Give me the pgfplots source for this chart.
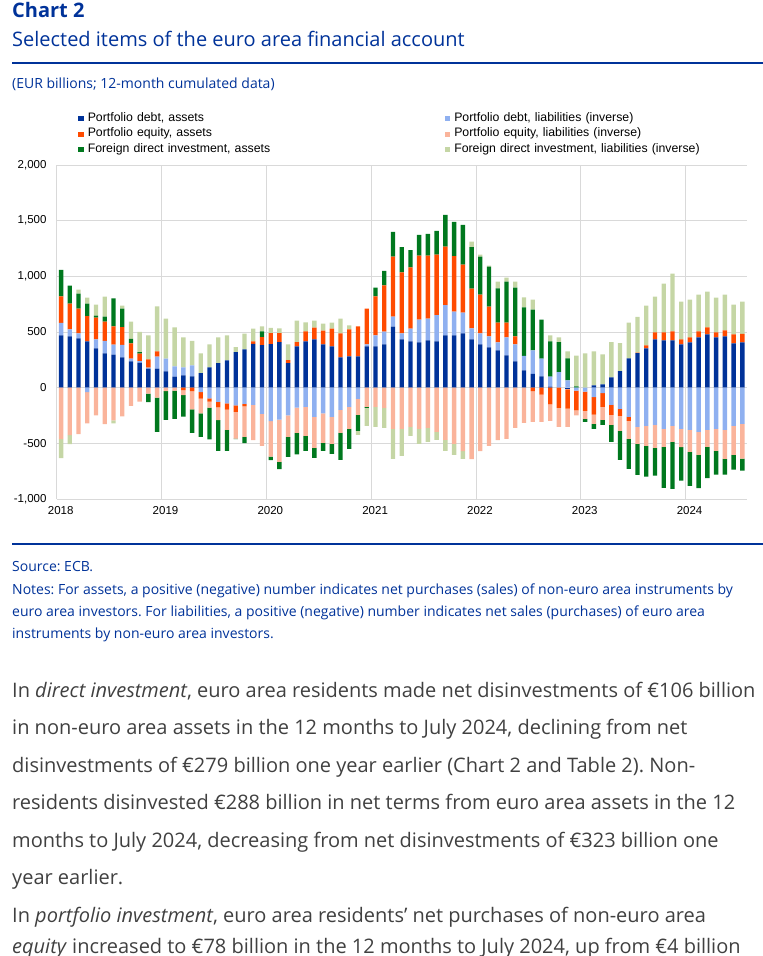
\documentclass[border=0pt]{standalone}
\usepackage{fontspec}
\setmainfont{Open Sans}
\newfontfamily\chartfont{Liberation Sans}
\usepackage{pgfplots}
\usepackage{pgfplotstable}
\pgfplotsset{compat=1.18}
\frenchspacing

\definecolor{ecbblue}{RGB}{0,50,153}
\definecolor{pdebtA}{RGB}{0,50,153}
\definecolor{pdebtL}{RGB}{143,176,240}
\definecolor{peqA}{RGB}{255,75,0}
\definecolor{peqL}{RGB}{250,180,155}
\definecolor{fdiA}{RGB}{0,120,30}
\definecolor{fdiL}{RGB}{197,214,165}
\definecolor{bodytext}{RGB}{64,64,64}
\definecolor{gridgrey}{RGB}{217,217,217}

% 12-month cumulated flows, EUR bn, Jan 2018 - Jul 2024 (m = month index)
\pgfplotstableread{
m    pda  pdl  pea  pel  fa   fl
0.5  469  113  239 -463  236 -170
1.5  460   63  233 -427  161  -81
2.5  442   45  224 -418  134   36
3.5  415  -39  227 -281  113   54
4.5  352   81  197 -248   18   99
5.5  307  113  173 -328   45  179
6.5  296   90  164 -293  251  -27
7.5  272  113  158 -257  167   27
8.5  236   24  137 -164   42  155
9.5  224   15   66 -125   15  182
10.5 170    9   75  -54  -75  215
11.5 170  110   45  -90 -307  406
12.5 146  116    0  -30 -260  358
13.5  99   93    0  -27 -254  349
14.5 110   72  -21  -45 -194  269
15.5 101   99  -30 -164 -212  221
16.5 131  -39  -60 -131 -212  176
17.5 182  -96  -30  -54 -284  206
18.5 221 -128  -48 -116 -275  230
19.5 245 -140  -57 -182 -188  224
20.5 319 -158  -60 -239   -6   45
21.5 343 -146  -21 -275  -57  143
22.5 394 -155   21 -316    0  116
23.5 382 -236   72 -287   51   45
24.5 391 -301   99 -319  -30   48
25.5 409 -287   81 -379  -66   42
26.5 221 -248   27 -194 -179  140
27.5 370 -179   39 -227 -194  194
28.5 415 -173   90 -260 -134   81
29.5 433 -263  107 -278  -90   63
30.5 388 -230  125 -266  -72   63
31.5 370 -263  161 -242  -90   54
32.5 272 -200  215 -206 -242  134
33.5 281 -173  242 -197 -179   36
34.5 281 -101  269 -143 -143  -36
35.5 370   18  322 -173   -9 -161
36.5 370   99  352 -173   78 -179
37.5 388  116  415 -182  131 -179
38.5 549   90  537 -370  224 -269
39.5 433   54  549 -370  227 -242
40.5 415  116  549 -352  155  -81
41.5 406  206  573 -370  188 -134
42.5 424  197  564 -361  197 -125
43.5 415  236  543 -397  215  -72
44.5 469  272  525 -469  287  -99
45.5 469  215  498 -504  307  -99
46.5 487  188  430 -570  358  -69
47.5 433   99  358 -642  373   48
48.5 388   99  349 -570  340   18
49.5 361   99  269 -522  358    9
50.5 334   72  179 -472  307   60
51.5 290  161  134 -460  367   36
52.5 236  152   72 -361  439   54
53.5 155  131    0 -316  436   90
54.5 125  209  -30 -278  367   90
55.5 101  161  -63 -245  349    0
56.5   9   90 -149 -149  316   54
57.5   0  140 -182 -170  269   42
58.5 -15   66 -173 -164  197   63
59.5   0  -27 -176  -45   12  275
60.5   0  -36 -173  -72  -27  307
61.5  21  -84 -158  -84  -45  304
62.5  30  -48 -125 -116  -45  269
63.5  93 -155  -90  -90 -152  316
64.5 149 -191  -63 -134 -260  251
65.5 263 -263  -36 -161 -269  322
66.5 310 -352    4 -152 -279  323
67.5 352 -343   27 -179 -278  358
68.5 433 -334   63 -206 -251  322
69.5 424 -370   72 -161 -370  439
70.5 424 -343   81 -143 -424  519
71.5 388 -370   45 -165 -300  340
72.5 406 -379   45 -197 -307  340
73.5 451 -397   54 -206 -299  331
74.5 478 -379   63 -152 -281  322
75.5 451 -370   45 -197 -215  313
76.5 460 -379   54 -260 -143  322
77.5 397 -343   81 -260 -134  269
78.5 406 -325   78 -313 -106  288
}\finacc

\pgfplotsset{
  fincommon/.style={
    at={(56.7pt,-499pt)}, anchor=south west,
    width=690pt, height=334pt, scale only axis,
    xmin=0, xmax=79, ymin=-1000, ymax=2000,
    ybar stacked, bar width=0.5,
    axis line style={draw=none},
    tick style={draw=none},
  },
  sq/.style={legend image code/.code={\path[##1] (0pt,-2.5pt) rectangle (5.7pt,2.5pt); \path (9.5pt,0pt);}},
}

\begin{document}
\begin{tikzpicture}

% header
\node[anchor=base west, inner sep=0pt, text=ecbblue, font=\fontsize{20}{20}\selectfont\bfseries] at (12pt,-17pt) {Chart 2};
\node[anchor=base west, inner sep=0pt, text=ecbblue, font=\fontsize{20}{20}\selectfont] at (12pt,-46pt) {Selected items of the euro area financial account};
\draw[ecbblue, line width=2pt] (12pt,-63pt) -- (763pt,-63pt);
\node[anchor=base west, inner sep=0pt, text=ecbblue, font=\fontsize{14}{14}\selectfont] at (12pt,-88pt) {(EUR billions; 12-month cumulated data)};

% positive parts of each item
\begin{axis}[fincommon,
  xtick={0,12,...,72}, xticklabels={2018,2019,2020,2021,2022,2023,2024},
  ytick={-1000,-500,...,2000},
  grid=major, major grid style={gridgrey, line width=0.6pt},
  tick label style={font=\chartfont\fontsize{11.5}{11.5}\selectfont},
  xticklabel style={inner sep=0pt, yshift=-7pt, xshift=4pt},
  yticklabel style={inner sep=0pt, xshift=-10pt,
    /pgf/number format/1000 sep={,}, /pgf/number format/assume math mode=true},
  legend columns=2,
  legend cell align=left,
  legend style={draw=none, fill=none, inner sep=0pt,
    at={(0.031,1.156)}, anchor=north west,
    font=\chartfont\fontsize{12.3}{12.3}\selectfont,
    row sep=5.3pt,
    nodes={inner sep=0pt, anchor=west, text height=8pt, text depth=2.5pt, text width=357pt}},
]
\addplot[sq, fill=pdebtA, draw=none] table[x=m, y expr={max(\thisrow{pda},0)}] {\finacc};
\addlegendentry{Portfolio debt, assets}
\addplot[sq, fill=pdebtL, draw=none] table[x=m, y expr={max(\thisrow{pdl},0)}] {\finacc};
\addlegendentry{Portfolio debt, liabilities (inverse)}
\addplot[sq, fill=peqA, draw=none] table[x=m, y expr={max(\thisrow{pea},0)}] {\finacc};
\addlegendentry{Portfolio equity, assets}
\addplot[sq, fill=peqL, draw=none] table[x=m, y expr={max(\thisrow{pel},0)}] {\finacc};
\addlegendentry{Portfolio equity, liabilities (inverse)}
\addplot[sq, fill=fdiA, draw=none] table[x=m, y expr={max(\thisrow{fa},0)}] {\finacc};
\addlegendentry{Foreign direct investment, assets}
\addplot[sq, fill=fdiL, draw=none] table[x=m, y expr={max(\thisrow{fl},0)}] {\finacc};
\addlegendentry{Foreign direct investment, liabilities (inverse)}
\end{axis}

% negative parts, stacked downward from zero
\begin{axis}[fincommon, hide axis]
\addplot[fill=pdebtA, draw=none] table[x=m, y expr={min(\thisrow{pda},0)}] {\finacc};
\addplot[fill=pdebtL, draw=none] table[x=m, y expr={min(\thisrow{pdl},0)}] {\finacc};
\addplot[fill=peqA, draw=none] table[x=m, y expr={min(\thisrow{pea},0)}] {\finacc};
\addplot[fill=peqL, draw=none] table[x=m, y expr={min(\thisrow{pel},0)}] {\finacc};
\addplot[fill=fdiA, draw=none] table[x=m, y expr={min(\thisrow{fa},0)}] {\finacc};
\addplot[fill=fdiL, draw=none] table[x=m, y expr={min(\thisrow{fl},0)}] {\finacc};
\end{axis}

% source and notes
\draw[ecbblue, line width=2pt] (12pt,-544pt) -- (763pt,-544pt);
\begin{scope}[every node/.style={anchor=base west, inner sep=0pt, text=ecbblue, font=\fontsize{14}{14}\selectfont}]
\node at (12pt,-571pt) {Source: ECB.};
\node at (12pt,-594pt) {Notes: For assets, a positive (negative) number indicates net purchases (sales) of non-euro area instruments by};
\node at (12pt,-616pt) {euro area investors. For liabilities, a positive (negative) number indicates net sales (purchases) of euro area};
\node at (12pt,-638pt) {instruments by non-euro area investors.};
\end{scope}

% body text
\begin{scope}[every node/.style={anchor=base west, inner sep=0pt, text=bodytext, font=\fontsize{20}{20}\selectfont}]
\node at (12pt,-697pt) {In \emph{direct investment}, euro area residents made net disinvestments of €106 billion};
\node at (12pt,-734pt) {in non-euro area assets in the 12 months to July 2024, declining from net};
\node at (12pt,-772pt) {disinvestments of €279 billion one year earlier (Chart 2 and Table 2). Non-};
\node at (12pt,-809pt) {residents disinvested €288 billion in net terms from euro area assets in the 12};
\node at (12pt,-847pt) {months to July 2024, decreasing from net disinvestments of €323 billion one};
\node at (12pt,-884pt) {year earlier.};
\node at (12pt,-922pt) {In \emph{portfolio investment}, euro area residents’ net purchases of non-euro area};
\node at (12pt,-953pt) {\emph{equity} increased to €78 billion in the 12 months to July 2024, up from €4 billion};
\end{scope}

\pgfresetboundingbox
\path[use as bounding box] (0pt,0pt) rectangle (763pt,-956pt);
\end{tikzpicture}
\end{document}
